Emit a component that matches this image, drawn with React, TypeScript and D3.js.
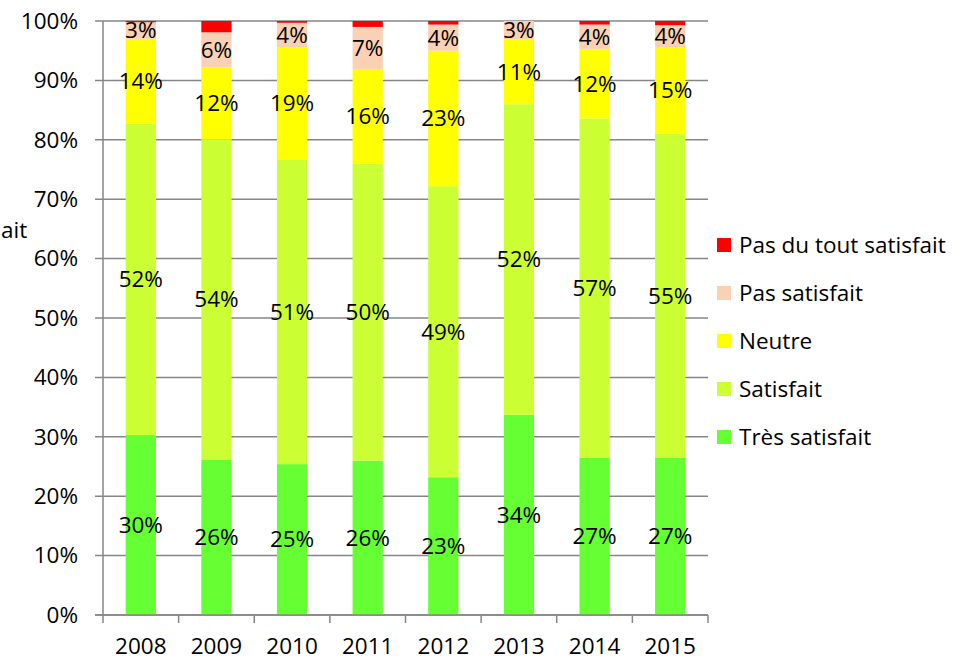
import { useEffect, useRef } from 'react';
import * as d3 from 'd3';

const years = ['2008', '2009', '2010', '2011', '2012', '2013', '2014', '2015'];
const tresSatisfait = [30.3, 26.1, 25.4, 26.0, 23.2, 33.7, 26.5, 26.5];
const satisfait = [52.4, 54.0, 51.3, 50.0, 49.0, 52.3, 57.1, 54.5];
const neutre = [14.3, 12.1, 18.9, 15.9, 22.8, 10.9, 11.7, 14.6];
const pasSatisfait = [2.8, 5.9, 4.1, 7.1, 4.4, 3.1, 4.1, 3.7];
const pasDuTout = [0.2, 1.9, 0.3, 1.0, 0.6, 0.0, 0.6, 0.7];
const yTicks = [0, 10, 20, 30, 40, 50, 60, 70, 80, 90, 100];

const series = [
  { key: 'Très satisfait', values: tresSatisfait, color: '#66ff33', label: true },
  { key: 'Satisfait', values: satisfait, color: '#ccff33', label: true },
  { key: 'Neutre', values: neutre, color: '#ffff00', label: true },
  { key: 'Pas satisfait', values: pasSatisfait, color: '#fad1b4', label: true },
  { key: 'Pas du tout satisfait', values: pasDuTout, color: '#ff0000', label: false },
];

const App = () => {
  const svgRef = useRef<SVGSVGElement>(null);

  useEffect(() => {
    const width = 967;
    const height = 662;
    const left = 103, right = 708, top = 21, bottom = 615;
    const font = '"Open Sans", sans-serif';
    const fs = 22.5;
    const axisColor = '#868686';

    const svg = d3.select(svgRef.current);
    svg.selectAll('*').remove();
    svg.attr('width', width).attr('height', height);

    const x = d3.scaleBand().domain(years).range([left, right]).paddingInner(0.6).paddingOuter(0.3);
    const xBand = d3.scaleBand().domain(years).range([left, right]);
    const y = d3.scaleLinear().domain([0, 100]).range([bottom, top]);

    // gridlines + y ticks
    svg.append('g')
      .selectAll('line')
      .data(yTicks)
      .join('line')
      .attr('x1', left - 8)
      .attr('x2', right)
      .attr('y1', d => y(d))
      .attr('y2', d => y(d))
      .attr('stroke', axisColor)
      .attr('stroke-width', 1.5);

    svg.append('g')
      .selectAll('text')
      .data(yTicks)
      .join('text')
      .attr('x', 78)
      .attr('y', d => y(d))
      .attr('dy', '0.35em')
      .attr('text-anchor', 'end')
      .attr('font-family', font)
      .attr('font-size', fs)
      .attr('fill', '#000')
      .text(d => d + '%');

    const rows = years.map((yr, i) => {
      const row: any = { year: yr };
      series.forEach(s => { row[s.key] = s.values[i]; });
      return row;
    });
    const stacked = d3.stack().keys(series.map(s => s.key))(rows);

    stacked.forEach((layer, li) => {
      const s = series[li];
      const g = svg.append('g');
      g.selectAll('rect')
        .data(layer)
        .join('rect')
        .attr('x', d => x(d.data.year)!)
        .attr('width', x.bandwidth())
        .attr('y', d => y(d[1]))
        .attr('height', d => y(d[0]) - y(d[1]))
        .attr('fill', s.color);
      if (s.label) {
        g.selectAll('text')
          .data(layer)
          .join('text')
          .attr('x', d => x(d.data.year)! + x.bandwidth() / 2)
          .attr('y', d => y((d[0] + d[1]) / 2))
          .attr('dy', '0.35em')
          .attr('text-anchor', 'middle')
          .attr('font-family', font)
          .attr('font-size', fs)
          .attr('fill', '#000')
          .text(d => Math.round(d[1] - d[0]) + '%');
      }
    });

    // axes lines
    svg.append('line')
      .attr('x1', left).attr('x2', left).attr('y1', top).attr('y2', bottom)
      .attr('stroke', axisColor).attr('stroke-width', 1.5);
    svg.append('line')
      .attr('x1', left - 8).attr('x2', right).attr('y1', bottom).attr('y2', bottom)
      .attr('stroke', axisColor).attr('stroke-width', 1.5);

    const xTicks = years.map(d => xBand(d)!).concat([right]);
    svg.append('g')
      .selectAll('line')
      .data(xTicks)
      .join('line')
      .attr('x1', d => d).attr('x2', d => d)
      .attr('y1', bottom).attr('y2', bottom + 8)
      .attr('stroke', axisColor).attr('stroke-width', 1.5);

    svg.append('g')
      .selectAll('text')
      .data(years)
      .join('text')
      .attr('x', d => xBand(d)! + xBand.bandwidth() / 2)
      .attr('y', 654)
      .attr('text-anchor', 'middle')
      .attr('font-family', font)
      .attr('font-size', fs)
      .attr('fill', '#000')
      .text(d => d);

    // axis title fragment visible at the left edge
    svg.append('text')
      .attr('x', 1).attr('y', 238)
      .attr('text-anchor', 'start')
      .attr('font-family', font)
      .attr('font-size', fs)
      .attr('fill', '#000')
      .text('ait');

    // legend
    const legend = svg.append('g');
    const legendItems = series.slice().reverse();
    legendItems.forEach((s, i) => {
      const ly = 245 + i * 48;
      legend.append('rect')
        .attr('x', 717).attr('y', ly - 7).attr('width', 14).attr('height', 14)
        .attr('fill', s.color);
      legend.append('text')
        .attr('x', 739).attr('y', ly)
        .attr('dy', '0.35em')
        .attr('font-family', font)
        .attr('font-size', fs)
        .attr('fill', '#000')
        .text(s.key);
    });
  }, []);

  return (
    <svg ref={svgRef} style={{ position: 'absolute', left: 0, top: 0, display: 'block' }}></svg>
  );
};

export default App;
